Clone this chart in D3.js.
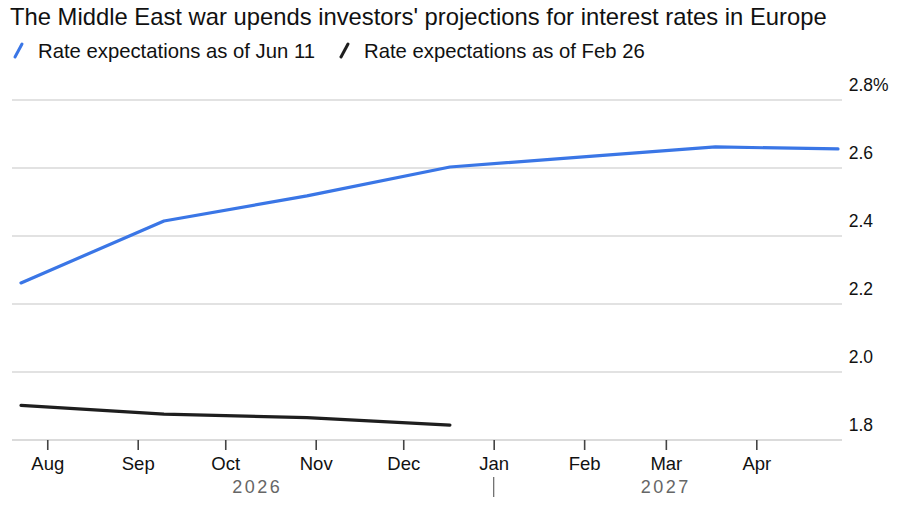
<!DOCTYPE html>
<html>
<head>
<meta charset="utf-8">
<script src="https://cdn.jsdelivr.net/npm/d3@7"></script>
<style>
  body { margin: 0; background: #fff; }
  svg { display: block; font-family: "Liberation Sans", Arial, Helvetica, sans-serif; }
</style>
</head>
<body>
<svg id="chart" width="900" height="510"></svg>
<script>
// ---- data ----
const titleText = "The Middle East war upends investors' projections for interest rates in Europe";
const seriesNames = ["Rate expectations as of Jun 11", "Rate expectations as of Feb 26"];
const meetingDates = ["2026-07-23", "2026-09-10", "2026-10-29", "2026-12-17", "2027-02-04", "2027-03-18", "2027-04-29"];
const jun11Values = [2.262, 2.444, 2.518, 2.603, 2.635, 2.662, 2.656];
const feb26Values = [1.902, 1.876, 1.866, 1.844];
const yTickValues = [1.8, 2.0, 2.2, 2.4, 2.6, 2.8];
const monthTicks = ["2026-08-01", "2026-09-01", "2026-10-01", "2026-11-01", "2026-12-01", "2027-01-01", "2027-02-01", "2027-03-01", "2027-04-01"];
const yearLabels = ["2026", "2027"];
const yearBoundary = "2027-01-01";

// ---- setup ----
const parse = d3.utcParse("%Y-%m-%d");
const svg = d3.select("#chart");
const colors = ["#3a76e6", "#1e1e1e"];

const x = d3.scaleUtc()
  .domain([parse(meetingDates[0]), parse(meetingDates[meetingDates.length - 1])])
  .range([21, 838]);
const y = d3.scaleLinear().domain([1.8, 2.8]).range([440, 100]);
const gridX0 = 12, gridX1 = 842;

// title
svg.append("text")
  .attr("x", 10).attr("y", 25)
  .attr("font-size", 23.8)
  .attr("fill", "#111")
  .text(titleText);

// legend
const legendX = [14, 340];
seriesNames.forEach((name, i) => {
  const g = svg.append("g").attr("transform", `translate(${legendX[i]},0)`);
  g.append("line")
    .attr("x1", 1).attr("y1", 57).attr("x2", 8).attr("y2", 44)
    .attr("stroke", colors[i]).attr("stroke-width", 3).attr("stroke-linecap", "round");
  g.append("text")
    .attr("x", 24).attr("y", 57.5)
    .attr("font-size", 20.3)
    .attr("fill", "#111")
    .text(name);
});

// gridlines
svg.append("g")
  .selectAll("line")
  .data(yTickValues)
  .join("line")
  .attr("x1", gridX0).attr("x2", gridX1)
  .attr("y1", d => y(d)).attr("y2", d => y(d))
  .attr("stroke", d => d === 1.8 ? "#cfcfcf" : "#d9d9d9")
  .attr("stroke-width", 1.5);

// y labels
svg.append("g")
  .selectAll("text")
  .data(yTickValues)
  .join("text")
  .attr("x", 873)
  .attr("y", d => y(d) - 9)
  .attr("text-anchor", "end")
  .attr("font-size", 17.5)
  .attr("fill", "#111")
  .text(d => d3.format(".1f")(d));
svg.append("text")
  .attr("x", 873).attr("y", y(yTickValues[yTickValues.length - 1]) - 9)
  .attr("font-size", 17.5).attr("fill", "#111")
  .text("%");

// x axis
const xAxis = d3.axisBottom(x)
  .tickValues(monthTicks.map(parse))
  .tickFormat(d3.utcFormat("%b"))
  .tickSize(10)
  .tickPadding(7);
const gx = svg.append("g").attr("transform", `translate(0,${y(1.8)})`).call(xAxis);
gx.select(".domain").remove();
gx.attr("font-family", null);
gx.selectAll(".tick line").attr("stroke", "#444").attr("stroke-width", 1.6);
gx.selectAll(".tick text").attr("font-size", 18.5).attr("fill", "#111");

// year labels
const jan = x(parse(yearBoundary));
const yearPos = [(x.range()[0] + jan) / 2, (jan + x.range()[1]) / 2];
svg.append("g")
  .selectAll("text")
  .data(yearLabels)
  .join("text")
  .attr("x", (d, i) => yearPos[i])
  .attr("y", 493)
  .attr("text-anchor", "middle")
  .attr("font-size", 18)
  .attr("letter-spacing", 2.5)
  .attr("fill", "#666")
  .text(d => d);
svg.append("line")
  .attr("x1", jan).attr("x2", jan)
  .attr("y1", 477).attr("y2", 497)
  .attr("stroke", "#666").attr("stroke-width", 1.2);

// lines
const line = d3.line().x(d => x(d[0])).y(d => y(d[1]));
const datasets = [
  jun11Values.map((v, i) => [parse(meetingDates[i]), v]),
  feb26Values.map((v, i) => [parse(meetingDates[i]), v])
];
svg.append("g")
  .selectAll("path")
  .data(datasets)
  .join("path")
  .attr("d", line)
  .attr("fill", "none")
  .attr("stroke", (d, i) => colors[i])
  .attr("stroke-width", 3.2)
  .attr("stroke-linejoin", "round")
  .attr("stroke-linecap", "round");
</script>
</body>
</html>
